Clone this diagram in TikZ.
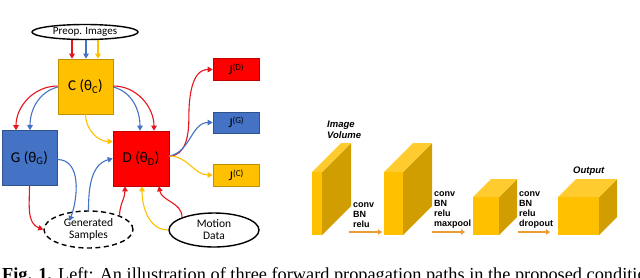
\documentclass[tikz,border=0pt]{standalone}
\usepackage{fontspec}
\setmainfont{Liberation Serif}
\newfontfamily\calfont{Carlito}
\newfontfamily\arl{Liberation Sans}
\usetikzlibrary{arrows.meta,shapes.geometric,calc}
\definecolor{myyellow}{HTML}{FFC000}
\definecolor{myyellowdk}{HTML}{BF9000}
\definecolor{myblue}{HTML}{4472C4}
\definecolor{mybluedk}{HTML}{2F528F}
\definecolor{myred}{HTML}{FF0000}
\definecolor{myreddk}{HTML}{C00000}
\definecolor{arred}{HTML}{E8141B}
\definecolor{cubeside}{HTML}{D09E00}
\definecolor{cubetop}{HTML}{FFCB2E}
\definecolor{myorange}{HTML}{ED9B33}
\tikzset{
  box/.style={draw, line width=0.6pt, minimum width=#1, inner sep=0pt, font=\calfont},
  bigbox/.style={box=55pt, minimum height=55pt, font=\calfont\fontsize{15}{17}\selectfont},
  jbox/.style={box=46pt, minimum height=22pt, font=\calfont\fontsize{13.5}{15}\selectfont},
  oval/.style={ellipse, draw=black, line width=1.4pt, inner sep=0pt, align=center, font=\calfont\fontsize{11.5}{13}\selectfont},
  arr/.style={line width=1.1pt, -{Triangle[length=5pt,width=5.5pt]}},
  ra/.style={arr, draw=arred, color=arred},
  ba/.style={arr, draw=myblue, color=myblue},
  ya/.style={arr, draw=myyellow, color=myyellow},
  lbl/.style={font=\arl\bfseries\fontsize{9}{10.2}\selectfont, align=left, anchor=north west, inner sep=0pt},
  ttl/.style={font=\arl\bfseries\itshape\fontsize{9.5}{10.6}\selectfont, align=left, anchor=north west, inner sep=0pt},
  flow/.style={line width=2pt, draw=myorange, -{Triangle[length=4pt,width=5.5pt]}, color=myorange},
}
\newcommand{\jlab}[1]{J\raisebox{4pt}{\fontsize{9}{9}\selectfont(#1)}}
\newcommand{\drawblock}[5]{% x0 x1 ytop ybot depth
  \fill[myyellow] (#1,#3) rectangle (#2,#4);
  \fill[cubeside] (#2,#3) -- ++(#5,-#5) -- ($(#2,#4)+(#5,-#5)$) -- (#2,#4) -- cycle;
  \fill[cubetop] (#1,#3) -- ++(#5,-#5) -- ($(#2,#3)+(#5,-#5)$) -- (#2,#3) -- cycle;
}
\begin{document}
\begin{tikzpicture}[x=1pt,y=-1pt]
\useasboundingbox (0,0) rectangle (640,277);
% ---------- left panel ----------
\node[oval, minimum width=106pt, minimum height=15pt, font=\calfont\fontsize{11}{13}\selectfont] (preop) at (85,32) {Preop. Images};
\node[bigbox, fill=myyellow, draw=myyellowdk] (C) at (85.5,86.5) {C (θ\textsubscript{C})};
\node[bigbox, fill=myblue, draw=mybluedk] (G) at (29.5,158) {G (θ\textsubscript{G})};
\node[bigbox, fill=myred, draw=myreddk, minimum width=56pt] (D) at (141,158.5) {D (θ\textsubscript{D})};
\node[jbox, fill=myred, draw=myreddk] (JD) at (236,69.5) {\jlab{D}};
\node[jbox, fill=myblue, draw=mybluedk, minimum height=21pt] (JG) at (236,122.5) {\jlab{G}};
\node[jbox, fill=myyellow, draw=myyellowdk] (JC) at (236,175) {\jlab{C}};
\node[oval, dash pattern=on 5pt off 3.5pt, minimum width=89pt, minimum height=37pt] (gen) at (88.5,229.5) {Generated\\[-1pt]Samples};
\node[oval, minimum width=90pt, minimum height=34pt] (mot) at (214,230) {Motion\\[-1pt]Data};
% preop -> C
\draw[ra] ([xshift=-13.5pt]C.north |- preop.south) -- ([xshift=-13.5pt]C.north);
\draw[ba] ([xshift=0.5pt]C.north |- preop.south) -- ([xshift=0.5pt]C.north);
\draw[ya] ([xshift=12.5pt]C.north |- preop.south) -- ([xshift=12.5pt]C.north);
% C -> G
\draw[ra] ([yshift=0.5pt]C.west) to[out=180, in=90] ([xshift=-13.5pt]G.north);
\draw[ba] ([yshift=-0.5pt]C.west) to[out=195, in=90] ([xshift=0.5pt]G.north);
% C -> D
\draw[ba] ([yshift=-0.5pt]C.east) to[out=-15, in=90] ([xshift=-1pt]D.north);
\draw[ra] ([yshift=0.5pt]C.east) to[out=0, in=90] ([xshift=13pt]D.north);
\draw[ya] (C.south) to[out=-90, in=180] ([yshift=17pt]D.west);
% D -> J
\draw[ra] ([yshift=2.5pt]D.east) to[out=0, in=-90] ($(D.east)!0.45!(JD.west|-D.east)+(0,-40)$) to[out=90, in=180] (JD.west);
\draw[ba] ([yshift=2.5pt]D.east) to[out=10, in=180] (JG.west);
\draw[ya] ([yshift=2.5pt]D.east) to[out=0, in=180] (JC.west);
% G -> gen
\draw[ba] ([yshift=-1.5pt]G.east) to[out=0, in=70] ($(gen.north west)+(13,5)$);
\draw[ra] ([xshift=0pt]G.south) to[out=-90, in=160] (gen.west);
% gen -> D
\draw[ba] (gen.north) to[out=90, in=195] (D.west);
\draw[ra] ([xshift=31pt,yshift=-6pt]gen.north) to[out=90, in=-90] ([xshift=-16pt]D.south);
% motion -> D
\draw[ya] (mot.west) to[out=180, in=-90] ([xshift=1pt]D.south);
\draw[ra] ([xshift=-32pt,yshift=-5pt]mot.north) to[out=90, in=-80] ([xshift=18pt]D.south);
% ---------- right panel ----------
\drawblock{312}{322}{172}{235}{29}
\drawblock{384}{403}{172}{235}{29}
\drawblock{473}{499}{197}{235}{18}
\drawblock{558}{599}{197}{235}{18}
\node[ttl] (t1) at (327,121) {Image\\Volume};
\node[ttl] (t2) at (573,167) {Output};
\node[lbl] (l1) at (353,202.3) {conv\\BN\\relu};
\node[lbl] (l2) at (434,191.3) {conv\\BN\\relu\\maxpool};
\node[lbl] (l3) at (519,191.3) {conv\\BN\\relu\\dropout};
\coordinate (a1s) at (349,232); \coordinate (a1e) at (382,232);
\coordinate (a2s) at (432,232); \coordinate (a2e) at (465,232);
\coordinate (a3s) at (518,232); \coordinate (a3e) at (550,232);
\draw[flow] (a1s) -- (a1e);
\draw[flow] (a2s) -- (a2e);
\draw[flow] (a3s) -- (a3e);
% ---------- caption ----------
\node[anchor=base west, inner sep=0pt, font=\fontsize{18.3}{20}\selectfont] (cap) at (2,280) {\textbf{Fig. 1.} Left: An illustration of three forward propagation paths in the proposed conditional};
\end{tikzpicture}
\end{document}
